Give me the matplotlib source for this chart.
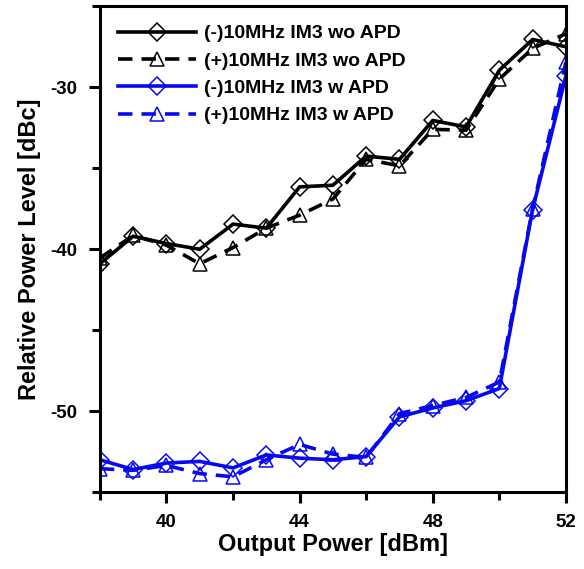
import matplotlib
matplotlib.use("Agg")
import matplotlib.pyplot as plt
from matplotlib.ticker import MultipleLocator

plt.rcParams["axes.unicode_minus"] = False

# ── Dados ─────────────────────────────────────────────
potencia = [38, 39, 40, 41, 42, 43, 44, 45, 46, 47, 48, 49, 50, 51, 52]

im3_menos_sem_apd = [-40.9, -39.2, -39.65, -40.0, -38.45, -38.7, -36.15, -36.05,
                     -34.25, -34.45, -32.05, -32.45, -28.95, -27.05, -27.5]
im3_mais_sem_apd = [-40.55, -39.15, -39.75, -40.9, -39.9, -38.7, -37.9, -36.9,
                    -34.45, -34.85, -32.6, -32.65, -29.5, -27.6, -26.7]
im3_menos_com_apd = [-53.0, -53.6, -53.2, -53.1, -53.5, -52.7, -52.9, -53.0,
                     -52.8, -50.35, -49.8, -49.35, -48.6, -37.55, -29.3]
im3_mais_com_apd = [-53.55, -53.65, -53.35, -53.85, -54.05, -53.0, -52.05, -52.65,
                    -52.85, -50.15, -49.65, -49.15, -48.2, -37.5, -28.45]

rotulos = ["(-)10MHz IM3 wo APD", "(+)10MHz IM3 wo APD",
           "(-)10MHz IM3 w APD", "(+)10MHz IM3 w APD"]

AZUL = "#0808f0"

fig = plt.figure(figsize=(5.84, 5.69), dpi=100)
ax = fig.add_axes([0.171, 0.135, 0.798, 0.854])

losango = dict(lw=2.6, ms=9.5, mfc="none", mew=1.1, marker="D")
triangulo = dict(lw=2.6, ms=10.5, mfc="none", mew=1.1, marker="^", dashes=(4, 2.5))
ax.plot(potencia, im3_menos_sem_apd, "-", color="black", label=rotulos[0], **losango)
ax.plot(potencia, im3_mais_sem_apd, "--", color="black", label=rotulos[1], **triangulo)
ax.plot(potencia, im3_menos_com_apd, "-", color=AZUL, label=rotulos[2], **losango)
ax.plot(potencia, im3_mais_com_apd, "--", color=AZUL, label=rotulos[3], **triangulo)

ax.set_xlim(38, 52)
ax.set_ylim(-55, -25)
ax.xaxis.set_major_locator(MultipleLocator(4))
ax.xaxis.set_minor_locator(MultipleLocator(2))
ax.yaxis.set_major_locator(MultipleLocator(10))
ax.yaxis.set_minor_locator(MultipleLocator(5))

for s in ax.spines.values():
    s.set_linewidth(2.2)
ax.tick_params(which="major", direction="out", length=8, width=2.2,
               labelsize=13.5, pad=8)
ax.tick_params(which="minor", direction="out", length=6, width=2.2)
for t in ax.get_xticklabels() + ax.get_yticklabels():
    t.set_family(["Liberation Sans Narrow", "Liberation Sans"])
    t.set_fontweight("bold")

ax.set_xlabel("Output Power [dBm]", fontsize=17, fontweight="bold",
              family="Liberation Sans", labelpad=1)
ax.set_ylabel("Relative Power Level [dBc]", fontsize=17, fontweight="bold",
              family="Liberation Sans", labelpad=7)

ax.legend(loc="upper left", frameon=False, handlelength=4,
          prop={"family": "Liberation Sans", "weight": "bold", "size": 14},
          borderaxespad=0.55, labelspacing=0.5, handletextpad=0.4)

fig.savefig("out.png", dpi=100)
